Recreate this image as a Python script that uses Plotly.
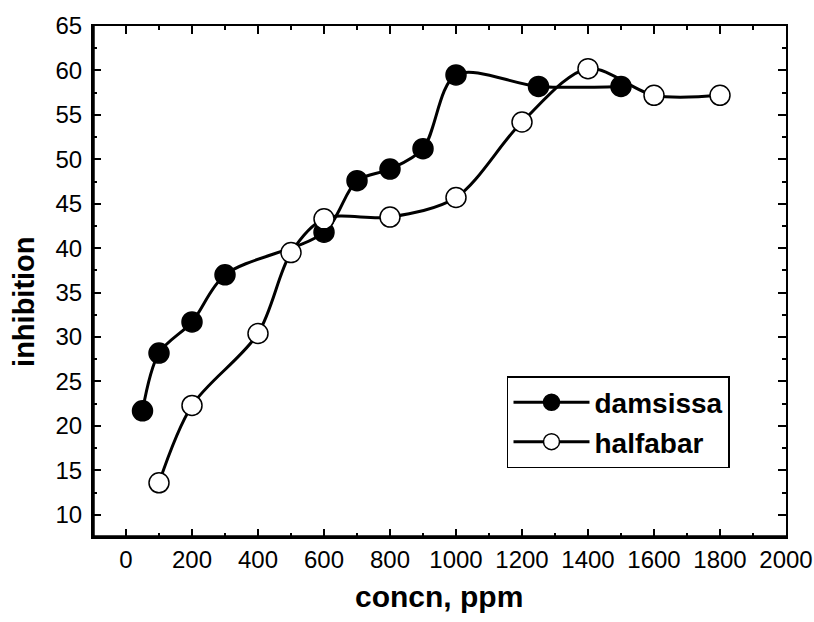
import plotly.graph_objects as go

# Data
damsissa_x = [50, 100, 200, 300, 600, 700, 800, 900, 1000, 1250, 1500]
damsissa_y = [21.7, 28.2, 31.7, 37.0, 41.8, 47.6, 48.9, 51.2, 59.5, 58.2, 58.2]

halfabar_x = [100, 200, 400, 500, 600, 800, 1000, 1200, 1400, 1600, 1800]
halfabar_y = [13.6, 22.3, 30.4, 39.5, 43.3, 43.5, 45.7, 54.2, 60.2, 57.2, 57.2]

x_ticks = [0, 200, 400, 600, 800, 1000, 1200, 1400, 1600, 1800, 2000]
y_ticks = [10, 15, 20, 25, 30, 35, 40, 45, 50, 55, 60, 65]
x_range = [-100, 2000]
y_range = [7.5, 65]

x_title = "concn, ppm"
y_title = "inhibition"

FONT = "Liberation Sans, Arial, sans-serif"

fig = go.Figure()
fig.add_trace(go.Scatter(
    x=damsissa_x, y=damsissa_y, name="damsissa", mode="lines+markers",
    line=dict(color="black", width=3, shape="spline", smoothing=0.9),
    marker=dict(symbol="circle", size=20, color="black",
                line=dict(color="black", width=1.5)),
))
fig.add_trace(go.Scatter(
    x=halfabar_x, y=halfabar_y, name="halfabar", mode="lines+markers",
    line=dict(color="black", width=3, shape="spline", smoothing=0.9),
    marker=dict(symbol="circle", size=20, color="white",
                line=dict(color="black", width=1.5)),
))

common = dict(showgrid=False, zeroline=False, color="black", automargin=False,
              ticks="inside", ticklen=8, tickwidth=2, tickcolor="black",
              showline=True, linecolor="black", linewidth=2, mirror="ticks",
              tickfont=dict(size=24, family=FONT, color="black"))

fig.update_layout(
    width=814, height=622,
    margin=dict(l=93, r=28, t=26, b=85, autoexpand=False),
    paper_bgcolor="white", plot_bgcolor="white",
    font=dict(family=FONT, color="black", size=24),
    xaxis=dict(**common, range=x_range, tickvals=x_ticks, ticklabelstandoff=0,
               minor=dict(ticks="inside", dtick=100, tick0=0, ticklen=4, tickwidth=2, tickcolor="black")),
    yaxis=dict(**common, range=y_range, tickvals=y_ticks, ticklabelstandoff=4,
               minor=dict(ticks="inside", dtick=2.5, tick0=0, ticklen=4, tickwidth=2, tickcolor="black")),
    legend=dict(x=0.5974, y=0.315, xanchor="left", yanchor="top",
                bordercolor="black", borderwidth=1.5, bgcolor="white",
                font=dict(size=28, family=FONT, weight="bold"),
                itemwidth=76, tracegroupgap=0),
    showlegend=True,
    shapes=[
        # thicker left and bottom frame lines
        dict(type="line", xref="paper", yref="paper", x0=0, x1=0, y0=0, y1=1,
             line=dict(color="black", width=3.5), layer="above"),
        dict(type="line", xref="paper", yref="paper", x0=0, x1=1, y0=0, y1=0,
             line=dict(color="black", width=3.5), layer="above"),
    ],
    annotations=[
        dict(text="<b>" + x_title + "</b>", xref="paper", yref="paper",
             x=0.4993, y=-0.1155, xanchor="center", yanchor="middle",
             showarrow=False, font=dict(size=30, family=FONT, color="black")),
        dict(text="<b>" + y_title + "</b>", xref="paper", yref="paper",
             x=-0.0996, y=0.46, xanchor="center", yanchor="middle", textangle=-90,
             showarrow=False, font=dict(size=29, family=FONT, color="black")),
    ],
)

fig.write_html("out.html")
